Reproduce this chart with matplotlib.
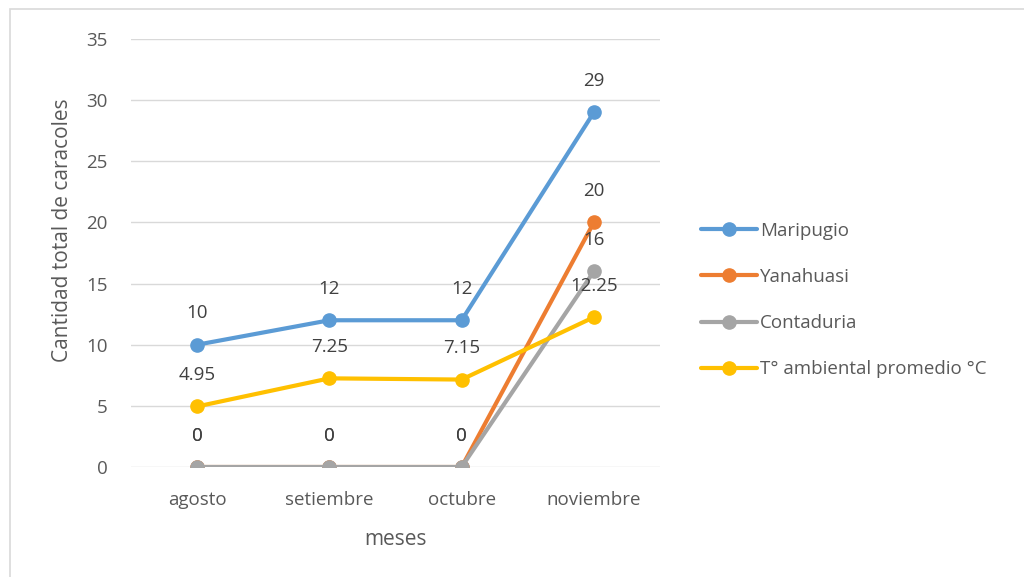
import matplotlib
matplotlib.use("Agg")
import matplotlib.pyplot as plt
from matplotlib.patches import Rectangle

months = ["agosto", "setiembre", "octubre", "noviembre"]
series_names = ["Maripugio", "Yanahuasi", "Contaduria", "T° ambiental promedio °C"]
maripugio = [10, 12, 12, 29]
yanahuasi = [0, 0, 0, 20]
contaduria = [0, 0, 0, 16]
temperatura = [4.95, 7.25, 7.15, 12.25]
colors = ["#5B9BD5", "#ED7D31", "#A5A5A5", "#FFC000"]
yticks = [0, 5, 10, 15, 20, 25, 30, 35]

plt.rcParams['font.family'] = ['Open Sans', 'DejaVu Sans']

W, H = 1024, 577
fig = plt.figure(figsize=(W / 100, H / 100), dpi=100)
fig.patches.append(Rectangle((10 / W, -0.1), 1.2, 1.1 - 9 / H, transform=fig.transFigure,
                             fill=False, edgecolor="#D9D9D9", linewidth=1.2, zorder=0))

ax = fig.add_axes([131 / W, 1 - 467 / H, (660 - 131) / W, (467 - 39) / H])
x = list(range(len(months)))
all_series = [maripugio, yanahuasi, contaduria, temperatura]
fmt = lambda v: (f"{v:g}")
for name, vals, c in zip(series_names, all_series, colors):
    ax.plot(x, vals, color=c, linewidth=3, marker="o", markersize=9.5,
            label=name, solid_capstyle="round", zorder=3)
for vals in all_series:
    for xi, v in zip(x, vals):
        ax.annotate(fmt(v), (xi, v), xytext=(0, 16), textcoords="offset points",
                    ha="center", va="bottom", fontsize=13.5, color="#404040", zorder=4)

ax.set_xlim(-0.5, 3.5)
ax.set_ylim(0, 35)
ax.set_yticks(yticks)
ax.set_xticks(x)
ax.set_xticklabels(months)
ax.grid(axis="y", color="#D9D9D9", linewidth=1)
ax.set_axisbelow(True)
for s in ax.spines.values():
    s.set_visible(False)
ax.tick_params(axis="both", length=0, labelsize=13.5, labelcolor="#595959")
ax.tick_params(axis="y", pad=17)
ax.tick_params(axis="x", pad=17)
ax.set_xlabel("meses", fontsize=15, color="#595959", labelpad=15)
ax.set_ylabel("Cantidad total de caracoles", fontsize=15, color="#595959")
ax.yaxis.set_label_coords(-0.11, 0.554)

leg = ax.legend(loc="center left", bbox_to_anchor=(1.045, 0.39), frameon=False,
                fontsize=13.5, labelspacing=1.5, handlelength=3.0, handletextpad=0.15,
                labelcolor="#595959")

fig.savefig("out.png", dpi=100)
